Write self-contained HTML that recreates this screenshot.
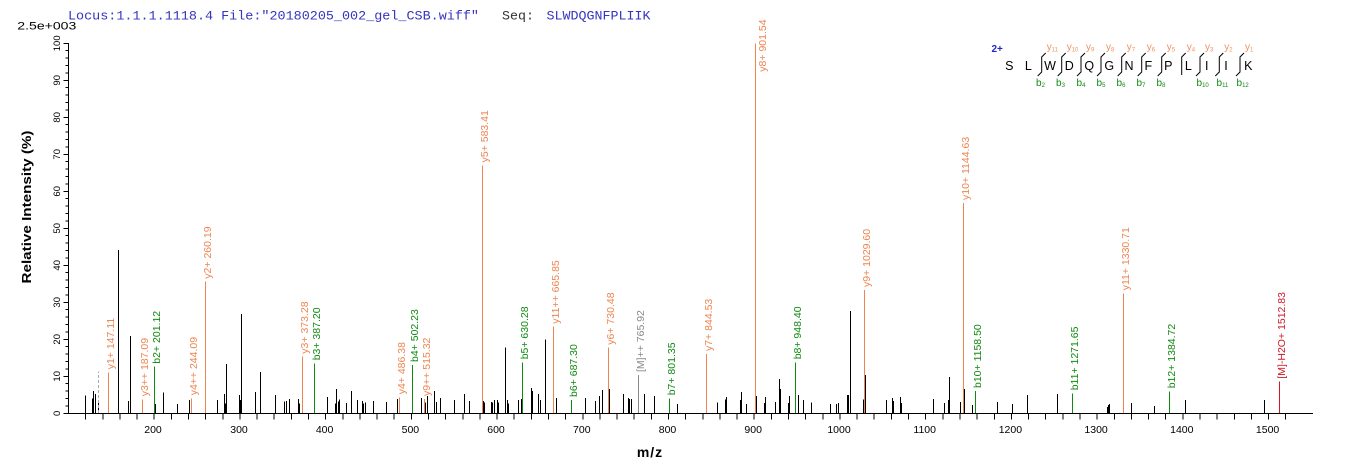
<!DOCTYPE html>
<html><head><meta charset="utf-8"><style>
html,body{margin:0;padding:0;background:#fff;}
svg{display:block;}
</style></head><body>
<svg width="1362" height="473" viewBox="0 0 1362 473" xmlns="http://www.w3.org/2000/svg">
<rect width="1362" height="473" fill="#fff"/>
<!-- header -->
<text x="68" y="19.3" font-family="'Liberation Mono', monospace" font-size="13" fill="#3434c0" textLength="411" lengthAdjust="spacingAndGlyphs">Locus:1.1.1.1118.4 File:"20180205_002_gel_CSB.wiff"</text>
<text x="502" y="19.3" font-family="'Liberation Mono', monospace" font-size="13" fill="#333" textLength="32" lengthAdjust="spacingAndGlyphs">Seq:</text>
<text x="546.5" y="19.3" font-family="'Liberation Mono', monospace" font-size="13" fill="#3434c0" textLength="104" lengthAdjust="spacingAndGlyphs">SLWDQGNFPLIIK</text>
<text x="17.3" y="29.5" font-family="'Liberation Sans', Arial, sans-serif" font-size="11" fill="#000" textLength="59" lengthAdjust="spacingAndGlyphs">2.5e+003</text>

<!-- axis titles -->
<text transform="translate(31,207) rotate(-90)" text-anchor="middle" font-family="'Liberation Sans', Arial, sans-serif" font-size="13" font-weight="bold" fill="#000" textLength="153" lengthAdjust="spacingAndGlyphs">Relative  Intensity (%)</text>
<text x="650" y="457" text-anchor="middle" font-family="'Liberation Sans', Arial, sans-serif" font-size="14" font-weight="bold" fill="#000" letter-spacing="1">m/z</text>

<!-- axes -->
<g stroke="#000" stroke-width="1" fill="none" shape-rendering="crispEdges">
<path d="M68.5 42.8 V413.5 H1313"/>
<path d="M63.3 413.3H68.5M63.3 376.3H68.5M63.3 339.3H68.5M63.3 302.3H68.5M63.3 265.3H68.5M63.3 228.3H68.5M63.3 191.3H68.5M63.3 154.3H68.5M63.3 117.3H68.5M63.3 80.3H68.5M63.3 43.3H68.5"/>
<path d="M65.7 405.9H68.5M65.7 398.5H68.5M65.7 391.1H68.5M65.7 383.7H68.5M65.7 368.9H68.5M65.7 361.5H68.5M65.7 354.1H68.5M65.7 346.7H68.5M65.7 331.9H68.5M65.7 324.5H68.5M65.7 317.1H68.5M65.7 309.7H68.5M65.7 294.9H68.5M65.7 287.5H68.5M65.7 280.1H68.5M65.7 272.7H68.5M65.7 257.9H68.5M65.7 250.5H68.5M65.7 243.1H68.5M65.7 235.7H68.5M65.7 220.9H68.5M65.7 213.5H68.5M65.7 206.1H68.5M65.7 198.7H68.5M65.7 183.9H68.5M65.7 176.5H68.5M65.7 169.1H68.5M65.7 161.7H68.5M65.7 146.9H68.5M65.7 139.5H68.5M65.7 132.1H68.5M65.7 124.7H68.5M65.7 109.9H68.5M65.7 102.5H68.5M65.7 95.1H68.5M65.7 87.7H68.5M65.7 72.9H68.5M65.7 65.5H68.5M65.7 58.1H68.5M65.7 50.7H68.5"/>
<path d="M85.6 413.5V419.5M102.8 413.5V419.5M119.9 413.5V419.5M137.1 413.5V419.5M154.2 413.5V419.5M171.3 413.5V419.5M188.5 413.5V419.5M205.6 413.5V419.5M222.8 413.5V419.5M239.9 413.5V419.5M257.1 413.5V419.5M274.2 413.5V419.5M291.4 413.5V419.5M308.5 413.5V419.5M325.6 413.5V419.5M342.8 413.5V419.5M359.9 413.5V419.5M377.1 413.5V419.5M394.2 413.5V419.5M411.4 413.5V419.5M428.5 413.5V419.5M445.7 413.5V419.5M462.8 413.5V419.5M479.9 413.5V419.5M497.1 413.5V419.5M514.2 413.5V419.5M531.4 413.5V419.5M548.5 413.5V419.5M565.7 413.5V419.5M582.8 413.5V419.5M599.9 413.5V419.5M617.1 413.5V419.5M634.2 413.5V419.5M651.4 413.5V419.5M668.5 413.5V419.5M685.7 413.5V419.5M702.8 413.5V419.5M720 413.5V419.5M737.1 413.5V419.5M754.2 413.5V419.5M771.4 413.5V419.5M788.5 413.5V419.5M805.7 413.5V419.5M822.8 413.5V419.5M840 413.5V419.5M857.1 413.5V419.5M874.2 413.5V419.5M891.4 413.5V419.5M908.5 413.5V419.5M925.7 413.5V419.5M942.8 413.5V419.5M960 413.5V419.5M977.1 413.5V419.5M994.3 413.5V419.5M1011.4 413.5V419.5M1028.5 413.5V419.5M1045.7 413.5V419.5M1062.8 413.5V419.5M1080 413.5V419.5M1097.1 413.5V419.5M1114.3 413.5V419.5M1131.4 413.5V419.5M1148.6 413.5V419.5M1165.7 413.5V419.5M1182.8 413.5V419.5M1200 413.5V419.5M1217.1 413.5V419.5M1234.3 413.5V419.5M1251.4 413.5V419.5M1268.6 413.5V419.5M1285.7 413.5V419.5"/>
</g>

<!-- y tick labels -->
<g font-family="'Liberation Sans', Arial, sans-serif" font-size="9.5" fill="#000" text-anchor="middle">
<text transform="translate(60,413.3) rotate(-90)">0</text>
<text transform="translate(60,376.3) rotate(-90)">10</text>
<text transform="translate(60,339.3) rotate(-90)">20</text>
<text transform="translate(60,302.3) rotate(-90)">30</text>
<text transform="translate(60,265.3) rotate(-90)">40</text>
<text transform="translate(60,228.3) rotate(-90)">50</text>
<text transform="translate(60,191.3) rotate(-90)">60</text>
<text transform="translate(60,154.3) rotate(-90)">70</text>
<text transform="translate(60,117.3) rotate(-90)">80</text>
<text transform="translate(60,80.3) rotate(-90)">90</text>
<text transform="translate(60,43.3) rotate(-90)">100</text>
</g>

<!-- x tick labels -->
<g font-family="'Liberation Sans', Arial, sans-serif" font-size="10.5" fill="#000" text-anchor="middle">
<text x="153" y="433">200</text>
<text x="239" y="433">300</text>
<text x="324.6" y="433">400</text>
<text x="410.4" y="433">500</text>
<text x="496" y="433">600</text>
<text x="581.8" y="433">700</text>
<text x="667.5" y="433">800</text>
<text x="753.2" y="433">900</text>
<text x="839" y="433">1000</text>
<text x="924.7" y="433">1100</text>
<text x="1010.4" y="433">1200</text>
<text x="1096.1" y="433">1300</text>
<text x="1181.8" y="433">1400</text>
<text x="1267.6" y="433">1500</text>
</g>

<!-- black peaks -->
<path stroke="#000" stroke-width="1" fill="none" shape-rendering="crispEdges" d="
M85.3 413V395.7M92.3 413V398.3M93.3 413V391M95.3 413V394M98.7 413V403M118.3 413V250M128.3 413V401M130.3 413V336M155.3 413V404M163.7 413V392.3M177.3 413V404M189.3 413V400M217.3 413V400M224.3 413V394M225.3 413V403.3M226.3 413V364M239.3 413V395M240.3 413V400M241.3 413V314M255.7 413V392M260.7 413V372M275.3 413V395M284.7 413V401.7M286.3 413V401M289.3 413V399M298.3 413V399M299.3 413V403.7M327.3 413V397M335.7 413V403.7M336.7 413V389M338.7 413V401.7M339.7 413V399.3M346.7 413V403M351.3 413V391M357.3 413V400M362.3 413V401M363.3 413V403.3M365.3 413V402.3M373.7 413V401M386.3 413V402
M397.3 413V399M421.3 413V398M425.3 413V402.7M427.3 413V396M434.3 413V391M436.3 413V402M440.3 413V398M454.3 413V400M464.3 413V394M469.3 413V401M483.3 413V401M484.3 413V402.7M491.3 413V402M492.3 413V402.7M494.3 413V400M497.3 413V400M498.3 413V402.7M505.3 413V347.7M507.3 413V400M508.3 413V403.7M518.3 413V400M521.3 413V399M531.3 413V388M532.3 413V391M538.3 413V394M540.7 413V400M545.3 413V339.7M556.7 413V398M585.3 413V398M595.3 413V401M599.3 413V396M602.3 413V390M609.3 413V389M623.3 413V394M628.3 413V398M629.3 413V399M631.3 413V399M644.3 413V394M654.3 413V396M677.3 413V404M717.3 413V402.7
M725.3 413V399.3M726.3 413V397M740.3 413V400M741.3 413V392M746.3 413V404M756.3 413V396M764.3 413V403M765.3 413V397M775.3 413V402M779.3 413V379M780.3 413V389M788.3 413V403M789.3 413V396M798.3 413V395M803.3 413V400M811.3 413V402.7M830.3 413V404M836.3 413V404M838.3 413V403M847.3 413V395M848.3 413V395M850.3 413V311M863.3 413V399.3M865.3 413V375M886.3 413V400M892.3 413V398M893.3 413V401M900.3 413V397M901.3 413V403M933.3 413V399M944.3 413V403M948.3 413V400M949.3 413V377M960.3 413V402M964.3 413V389M972.3 413V405M997.3 413V402M1012.3 413V404M1027.3 413V395
M1057.7 413V394M1107.3 413V407M1108.3 413V405M1109.3 413V404M1131.7 413V403M1154.3 413V406M1185.3 413V400M1264.3 413V400"/>

<!-- grey dashed unlabeled -->
<path d="M98.3 413V371.7" stroke="#aaa" stroke-width="1" stroke-dasharray="3,2" shape-rendering="crispEdges"/>

<!-- orange y ions -->
<g stroke="#ee8550" stroke-width="1" shape-rendering="crispEdges">
<path d="M108.3 413V372.3M142.3 413V399.3M191.3 413V398.3M205.3 413V281.7M302.7 413V356.7M399.3 413V397.3M424.3 413V399M482.6 413V165.4M553.3 413V326.7M608.3 413V347.7M706.3 413V354M755.3 413V43.3M864.3 413V290M963.3 413V203M1123.7 413V293.3"/>
</g>
<g stroke="#108a10" stroke-width="1" shape-rendering="crispEdges">
<path d="M154.3 413V366.7M314.7 413V363.3M412.3 413V365M522.7 413V362.3M571.3 413V400M669.3 413V398.3M795.3 413V362.3M975.3 413V391M1072.3 413V393.3M1169.7 413V391.3"/>
</g>
<path d="M638.3 413V375" stroke="#888" stroke-width="1" shape-rendering="crispEdges"/>
<path d="M1279.3 413V381.7" stroke="#d01828" stroke-width="1" shape-rendering="crispEdges"/>

<!-- peak labels -->
<g font-family="'Liberation Sans', Arial, sans-serif" font-size="10.5" fill="#ee8550">
<text transform="translate(113.8,369.3) rotate(-90)">y1+ 147.11</text>
<text transform="translate(147.8,396.3) rotate(-90)">y3++ 187.09</text>
<text transform="translate(196.8,395.3) rotate(-90)">y4++ 244.09</text>
<text transform="translate(210.8,278.7) rotate(-90)">y2+ 260.19</text>
<text transform="translate(308.2,353.7) rotate(-90)">y3+ 373.28</text>
<text transform="translate(404.8,394.3) rotate(-90)">y4+ 486.38</text>
<text transform="translate(429.8,396) rotate(-90)">y9++ 515.32</text>
<text transform="translate(488.1,162.4) rotate(-90)">y5+ 583.41</text>
<text transform="translate(558.8,323.7) rotate(-90)">y11++ 665.85</text>
<text transform="translate(613.8,344.7) rotate(-90)">y6+ 730.48</text>
<text transform="translate(711.8,351) rotate(-90)">y7+ 844.53</text>
<text transform="translate(766,71.7) rotate(-90)">y8+ 901.54</text>
<text transform="translate(869.8,287) rotate(-90)">y9+ 1029.60</text>
<text transform="translate(968.8,200) rotate(-90)">y10+ 1144.63</text>
<text transform="translate(1129.2,290.3) rotate(-90)">y11+ 1330.71</text>
</g>
<g font-family="'Liberation Sans', Arial, sans-serif" font-size="10.5" fill="#108a10">
<text transform="translate(159.8,363.7) rotate(-90)">b2+ 201.12</text>
<text transform="translate(320.2,360.3) rotate(-90)">b3+ 387.20</text>
<text transform="translate(417.8,362) rotate(-90)">b4+ 502.23</text>
<text transform="translate(528.2,359.3) rotate(-90)">b5+ 630.28</text>
<text transform="translate(576.8,397) rotate(-90)">b6+ 687.30</text>
<text transform="translate(674.8,395.3) rotate(-90)">b7+ 801.35</text>
<text transform="translate(800.8,359.3) rotate(-90)">b8+ 948.40</text>
<text transform="translate(980.8,388) rotate(-90)">b10+ 1158.50</text>
<text transform="translate(1077.8,390.3) rotate(-90)">b11+ 1271.65</text>
<text transform="translate(1175.2,388.3) rotate(-90)">b12+ 1384.72</text>
</g>
<text transform="translate(643.8,372) rotate(-90)" font-family="'Liberation Sans', Arial, sans-serif" font-size="10.5" fill="#888">[M]++ 765.92</text>
<text transform="translate(1284.8,378.7) rotate(-90)" font-family="'Liberation Sans', Arial, sans-serif" font-size="10.5" fill="#d01828">[M]-H2O+ 1512.83</text>

<!-- peptide diagram -->
<text x="991.5" y="52" font-family="'Liberation Sans', Arial, sans-serif" font-size="10" font-weight="bold" fill="#2424d0">2+</text>
<g font-family="'Liberation Sans', Arial, sans-serif" font-size="12.5" fill="#000" text-anchor="middle">
<text x="1009.3" y="70">S</text>
<text x="1028.3" y="70">L</text>
<text x="1050" y="70">W</text>
<text x="1069.3" y="70">D</text>
<text x="1089.3" y="70">Q</text>
<text x="1109.3" y="70">G</text>
<text x="1129" y="70">N</text>
<text x="1148.3" y="70">F</text>
<text x="1168.3" y="70">P</text>
<text x="1188.3" y="70">L</text>
<text x="1206.7" y="70">I</text>
<text x="1226" y="70">I</text>
<text x="1248.3" y="70">K</text>
</g>
<path stroke="#000" stroke-width="1" fill="none" d="
M1045.7 53L1041.7 57V72L1037.7 76
M1065.7 53L1061.7 57V72L1057.7 76
M1085 53L1081 57V72L1077 76
M1105 53L1101 57V72L1097 76
M1125.7 53L1121.7 57V72L1117.7 76
M1145.7 53L1141.7 57V72L1137.7 76
M1165.7 53L1161.7 57V72L1157.7 76
M1185.7 53L1181.7 57V75
M1204 53L1200 57V72L1196 76
M1223.3 53L1219.3 57V72L1215.3 76
M1244 53L1240 57V72L1236 76"/>
<g font-family="'Liberation Sans', Arial, sans-serif" font-size="10" fill="#f09060">
<text x="1046.7" y="50">y<tspan font-size="6" dy="1.5">11</tspan></text>
<text x="1066.7" y="50">y<tspan font-size="6" dy="1.5">10</tspan></text>
<text x="1086" y="50">y<tspan font-size="6" dy="1.5">9</tspan></text>
<text x="1106" y="50">y<tspan font-size="6" dy="1.5">8</tspan></text>
<text x="1126.7" y="50">y<tspan font-size="6" dy="1.5">7</tspan></text>
<text x="1146.7" y="50">y<tspan font-size="6" dy="1.5">6</tspan></text>
<text x="1166.7" y="50">y<tspan font-size="6" dy="1.5">5</tspan></text>
<text x="1186.7" y="50">y<tspan font-size="6" dy="1.5">4</tspan></text>
<text x="1205" y="50">y<tspan font-size="6" dy="1.5">3</tspan></text>
<text x="1224.3" y="50">y<tspan font-size="6" dy="1.5">2</tspan></text>
<text x="1245" y="50">y<tspan font-size="6" dy="1.5">1</tspan></text>
</g>
<g font-family="'Liberation Sans', Arial, sans-serif" font-size="10" fill="#108a10">
<text x="1036" y="86">b<tspan font-size="6" dy="1">2</tspan></text>
<text x="1056" y="86">b<tspan font-size="6" dy="1">3</tspan></text>
<text x="1076.5" y="86">b<tspan font-size="6" dy="1">4</tspan></text>
<text x="1096.5" y="86">b<tspan font-size="6" dy="1">5</tspan></text>
<text x="1116.5" y="86">b<tspan font-size="6" dy="1">6</tspan></text>
<text x="1136.5" y="86">b<tspan font-size="6" dy="1">7</tspan></text>
<text x="1156.5" y="86">b<tspan font-size="6" dy="1">8</tspan></text>
<text x="1196.5" y="86">b<tspan font-size="6" dy="1">10</tspan></text>
<text x="1216.5" y="86">b<tspan font-size="6" dy="1">11</tspan></text>
<text x="1236.5" y="86">b<tspan font-size="6" dy="1">12</tspan></text>
</g>
</svg>
</body></html>
